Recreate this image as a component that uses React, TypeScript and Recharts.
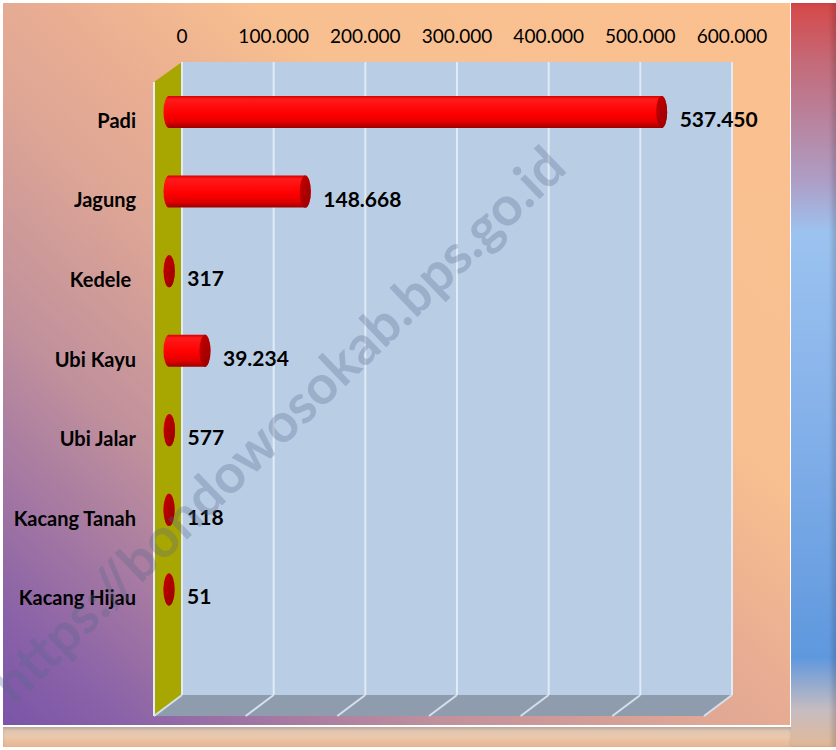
import { BarChart, Bar, XAxis, YAxis, CartesianGrid, LabelList } from 'recharts'

const categories = ['Padi', 'Jagung', 'Kedele ', 'Ubi Kayu', 'Ubi Jalar', 'Kacang Tanah', 'Kacang Hijau']
const production = [537450, 148668, 317, 39234, 577, 118, 51]
const axisTicks = [0, 100000, 200000, 300000, 400000, 500000, 600000]
const watermark = 'https://bondowosokab.bps.go.id'

const data = categories.map((name, i) => ({ name, value: production[i] }))

// layout
const W = 836
const H = 750
const PLOT_LEFT = 182
const PLOT_RIGHT = 732
const PLOT_TOP = 62
const BAND_BOTTOM = 619
const WALL_BOTTOM = 695
const DEPTH_X = 28
const DEPTH_Y = 21
const BAR_SHIFT_X = 13
const BAR_SHIFT_Y = 10
const CAP_RX = 5.5
const Y_AXIS_W = 150
const X_AXIS_H = 30

const FONT = 'Lato, "Open Sans", sans-serif'

const fmt = (v: number) => String(v).replace(/\B(?=(\d{3})+(?!\d))/g, '.')

const Cylinder = (props: any) => {
  const { x, y, width, height } = props
  const X = x - BAR_SHIFT_X
  const Y = y + BAR_SHIFT_Y
  const w = Math.max(width, 0)
  const ry = height / 2
  const d = `M${X},${Y} L${X + w},${Y} A${CAP_RX},${ry} 0 0 1 ${X + w},${Y + height} L${X},${Y + height} A${CAP_RX},${ry} 0 0 1 ${X},${Y} Z`
  return (
    <g>
      <path d={d} fill="url(#cylBody)" />
      <ellipse cx={X + w} cy={Y + ry} rx={CAP_RX} ry={ry} fill="url(#cylCap)" />
    </g>
  )
}

const ValueLabel = (props: any) => {
  const { x, y, width, height, value } = props
  return (
    <text
      x={x + width - BAR_SHIFT_X + 18}
      y={y + height / 2 + BAR_SHIFT_Y + 15}
      fontFamily={FONT}
      fontWeight={700}
      fontSize={21}
      fill="#000"
    >
      {fmt(value)}
    </text>
  )
}

const CategoryTick = (props: any) => {
  const { x, y, payload } = props
  return (
    <text
      x={x}
      y={y + 26}
      textAnchor="end"
      fontFamily={FONT}
      fontWeight={700}
      fontSize={20}
      fill="#000"
      style={{ whiteSpace: 'pre' }}
    >
      {payload.value}
    </text>
  )
}

const GridLine = (props: any) => {
  const { x1, y1 } = props
  return (
    <g key={props.key}>
      <line x1={x1} y1={y1} x2={x1} y2={WALL_BOTTOM} stroke="#e2ebf5" strokeWidth={2} />
      <line x1={x1} y1={WALL_BOTTOM} x2={x1 - DEPTH_X} y2={WALL_BOTTOM + DEPTH_Y} stroke="#d6e0ec" strokeWidth={2} />
    </g>
  )
}

const App = () => {
  return (
    <div style={{ position: 'absolute', left: 0, top: 0, width: W, height: H, background: '#fff', overflow: 'hidden' }}>
      {/* main panel */}
      <div
        style={{
          position: 'absolute', left: 3, top: 3, width: 787, height: 722,
          background: 'linear-gradient(to top right, #7a55a8 0%, #8a62a8 8%, #c0909c 28%, #dea695 44%, #e8ad92 52%, #f8bf90 66%, #fac090 100%)',
        }}
      />
      {/* right strip */}
      <div
        style={{
          position: 'absolute', left: 791, top: 3, width: 45, height: 744,
          background: 'linear-gradient(to bottom, #d64848 0%, #c46a78 8%, #ae9ec6 24%, #9cc3f0 31%, #86b2ea 55%, #5f98de 88%, #c6bcc0 95%, #e2b898 100%)',
          boxShadow: 'inset -4px 0 4px rgba(0,0,0,0.15)',
        }}
      />
      {/* bottom strip */}
      <div
        style={{
          position: 'absolute', left: 3, top: 727, width: 788, height: 20,
          background: 'linear-gradient(to bottom, #d8c4b6 0%, #ecc8ac 50%, #e6b490 100%)',
          boxShadow: 'inset 0 2px 3px rgba(0,0,0,0.15)',
        }}
      />
      {/* 3D walls */}
      <svg width={W} height={H} style={{ position: 'absolute', left: 0, top: 0 }}>
        <rect x={PLOT_LEFT} y={PLOT_TOP} width={PLOT_RIGHT - PLOT_LEFT + 1} height={WALL_BOTTOM - PLOT_TOP} fill="#b9cde5" />
        <polygon
          points={`${PLOT_LEFT},${PLOT_TOP} ${PLOT_LEFT},${WALL_BOTTOM} ${PLOT_LEFT - DEPTH_X},${WALL_BOTTOM + DEPTH_Y} ${PLOT_LEFT - DEPTH_X},${PLOT_TOP + 20}`}
          fill="#a8a600"
        />
        <polygon
          points={`${PLOT_LEFT},${WALL_BOTTOM} ${PLOT_RIGHT},${WALL_BOTTOM} ${PLOT_RIGHT - DEPTH_X},${WALL_BOTTOM + DEPTH_Y} ${PLOT_LEFT - DEPTH_X},${WALL_BOTTOM + DEPTH_Y}`}
          fill="#8e9cad"
        />
        <line x1={PLOT_LEFT - DEPTH_X} y1={PLOT_TOP + 20} x2={PLOT_LEFT - DEPTH_X} y2={WALL_BOTTOM + DEPTH_Y} stroke="#e6edf5" strokeWidth={2} />
      </svg>
      <div style={{ position: 'absolute', left: 0, top: 0 }}>
        <BarChart
          width={W}
          height={H}
          data={data}
          layout="vertical"
          margin={{ top: PLOT_TOP - X_AXIS_H, right: W - PLOT_RIGHT, bottom: H - BAND_BOTTOM, left: PLOT_LEFT - Y_AXIS_W }}
          style={{ fontFamily: FONT }}
        >
          <defs>
            <linearGradient id="cylBody" x1="0" y1="0" x2="0" y2="1">
              <stop offset="0%" stopColor="#d40000" />
              <stop offset="10%" stopColor="#ff1a1a" />
              <stop offset="55%" stopColor="#ff0000" />
              <stop offset="82%" stopColor="#e00000" />
              <stop offset="100%" stopColor="#9c0000" />
            </linearGradient>
            <linearGradient id="cylCap" x1="0" y1="0" x2="1" y2="1">
              <stop offset="0%" stopColor="#c40000" />
              <stop offset="100%" stopColor="#980000" />
            </linearGradient>
          </defs>
          <CartesianGrid horizontal={false} vertical={GridLine} />
          <XAxis
            type="number"
            orientation="top"
            height={X_AXIS_H}
            domain={[0, 600000]}
            ticks={axisTicks}
            tickFormatter={fmt}
            axisLine={false}
            tickLine={false}
            tickSize={0}
            tickMargin={19}
            interval={0}
            tick={{ fontSize: 19, fill: '#000', fontFamily: FONT }}
          />
          <YAxis
            type="category"
            dataKey="name"
            width={Y_AXIS_W}
            axisLine={false}
            tickLine={false}
            tickSize={0}
            tickMargin={46}
            interval={0}
            tick={CategoryTick}
          />
          <Bar dataKey="value" barSize={32} shape={Cylinder} isAnimationActive={false}>
            <LabelList dataKey="value" content={ValueLabel} />
          </Bar>
        </BarChart>
      </div>
      {/* watermark */}
      <svg width={W} height={H} style={{ position: 'absolute', left: 0, top: 0, pointerEvents: 'none' }}>
        <text
          x={292}
          y={438}
          textAnchor="middle"
          transform="rotate(-44 292 438)"
          fontFamily={FONT}
          fontWeight={700}
          fontSize={54}
          fill="#56688a"
          fillOpacity={0.3}
        >
          {watermark}
        </text>
      </svg>
    </div>
  )
}

export default App
